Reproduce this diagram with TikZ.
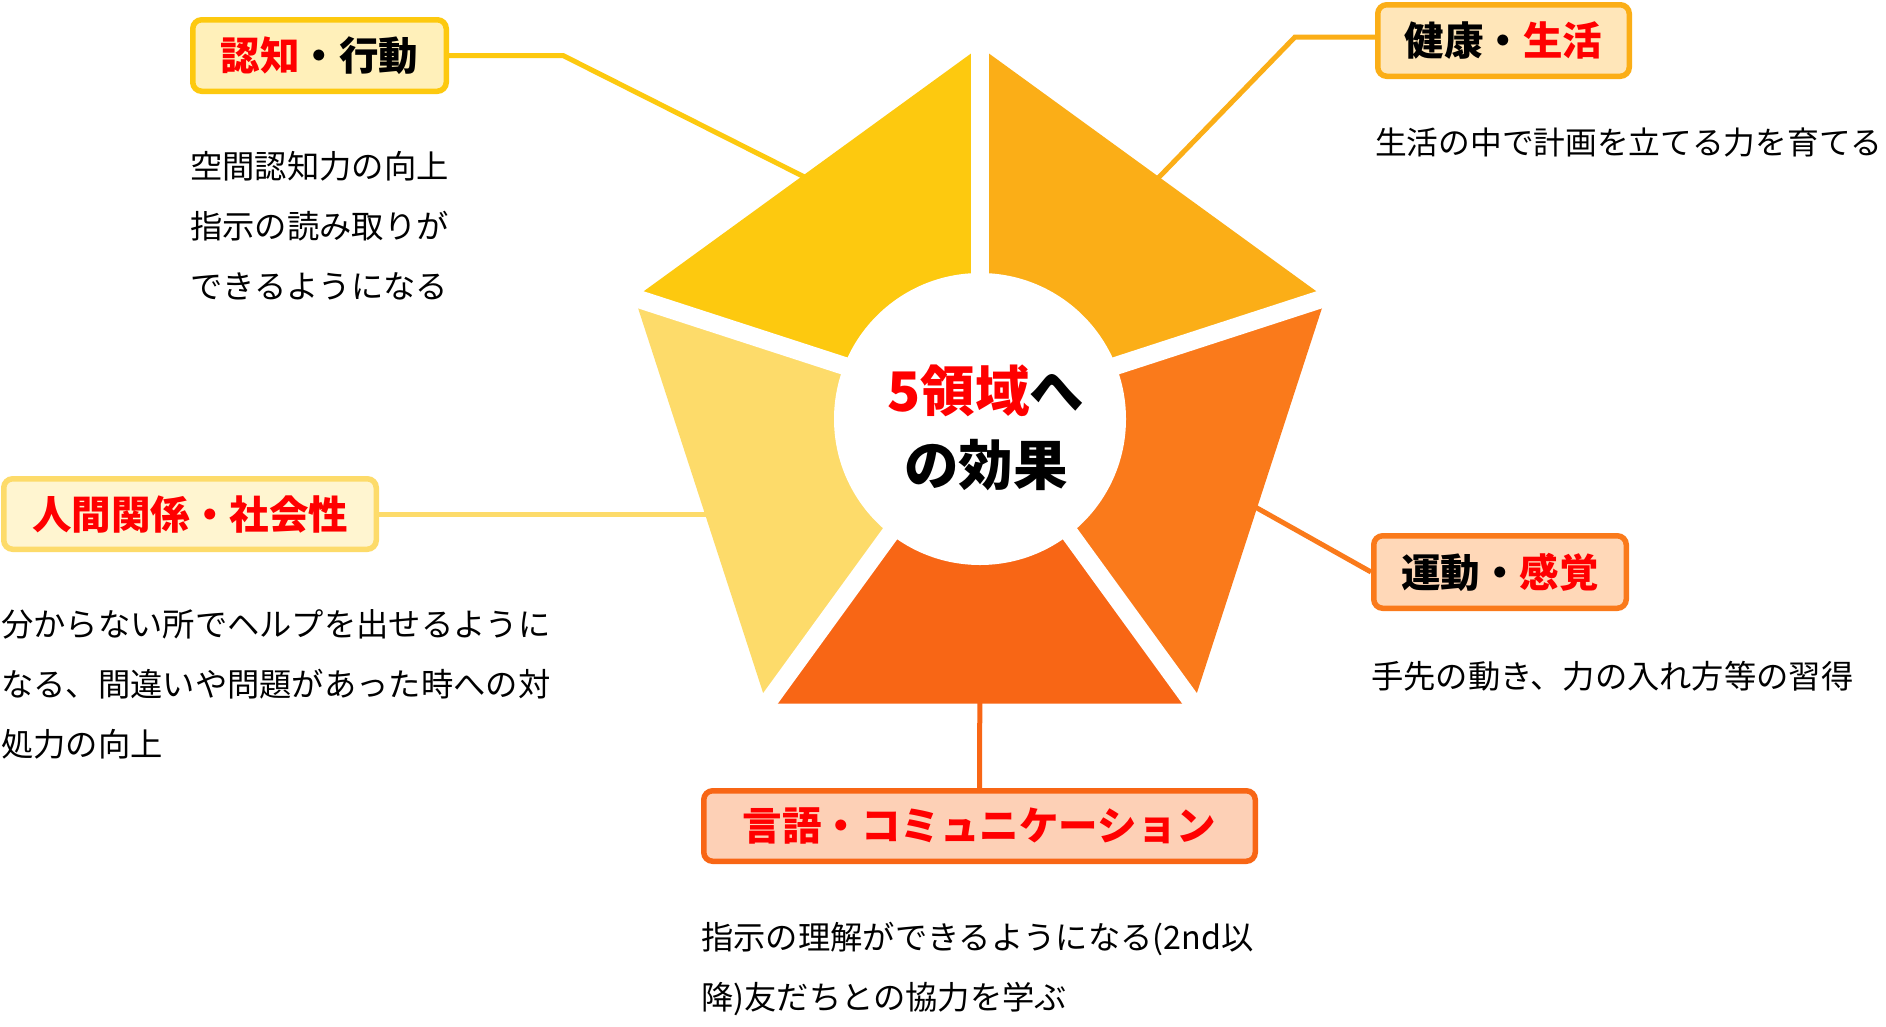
\documentclass[tikz,border=0pt]{standalone}
\usepackage{fontspec}
\setmainfont{Noto Sans CJK JP}
\usetikzlibrary{calc}
\definecolor{cA}{HTML}{FDC90F}
\definecolor{cB}{HTML}{FBAE17}
\definecolor{cC}{HTML}{FA7A1B}
\definecolor{cD}{HTML}{F86615}
\definecolor{cE}{HTML}{FDDB6A}
\definecolor{fA}{HTML}{FFF0BA}
\definecolor{fB}{HTML}{FFE6B9}
\definecolor{fC}{HTML}{FFD8B8}
\definecolor{fD}{HTML}{FDD0B6}
\definecolor{fE}{HTML}{FFF5D0}
\definecolor{accent}{HTML}{FF0000}
\begin{document}
\begin{tikzpicture}[x=1pt,y=-1pt,
  lbl/.style={draw, line width=5.5pt, rounded corners=9pt, inner sep=0pt,
    font=\fontsize{39.5}{47}\selectfont\bfseries, anchor=center},
  body/.style={anchor=north west, inner sep=0pt, align=left,
    font=\fontsize{32.3}{60}\selectfont},
  conn/.style={line width=5pt},
  gapline/.style={white, line width=18pt},
  piece/.style={draw=none}]
\useasboundingbox[fill=white] (0,0) rectangle (1886,1026);

% pentagon geometry
\coordinate (C) at (980,410);
\coordinate (V0) at (980,47);
\coordinate (V1) at (1325.3,297.8);
\coordinate (V2) at (1193.4,703.7);
\coordinate (V3) at (766.6,703.7);
\coordinate (V4) at (634.7,297.8);
\coordinate (O) at (980,419);

% label boxes
\node[lbl, draw=cA, fill=fA, minimum width=253.5pt, minimum height=71.5pt] (b1) at (319.5,55.5) {\textcolor{accent}{認知}・行動};
\node[lbl, draw=cB, fill=fB, minimum width=251.5pt, minimum height=71.5pt] (b2) at (1503.5,40.5) {健康・\textcolor{accent}{生活}};
\node[lbl, draw=cE, fill=fE, minimum width=372.5pt, minimum height=70.5pt] (b3) at (190,514) {\textcolor{accent}{人間関係・社会性}};
\node[lbl, draw=cC, fill=fC, minimum width=252.5pt, minimum height=72.5pt] (b4) at (1500,572) {運動・\textcolor{accent}{感覚}};
\node[lbl, draw=cD, fill=fD, minimum width=551.5pt, minimum height=70.5pt] (b5) at (979.5,826) {\textcolor{accent}{言語・コミュニケーション}};

% connectors (behind pieces)
\coordinate (k1) at (563,55.5);
\coordinate (e1) at (880,215);
\coordinate (k2) at (1295,37);
\coordinate (e2) at (1100,238);
\coordinate (e3) at (760,514);
\coordinate (e4) at (1200,476);
\coordinate (e5) at (980,650);
\draw[conn, cA] (b1.east) -- (k1) -- (e1);
\draw[conn, cB] (k2 -| b2.west) -- (k2) -- (e2);
\draw[conn, cE] (b3.east) -- (e3);
\draw[conn, cC] (b4.west) -- (e4);
\draw[conn, cD] (b5.north) -- (e5);

% pieces
\fill[cA] (C) -- (V4) -- (V0) -- cycle;
\fill[cB] (C) -- (V0) -- (V1) -- cycle;
\fill[cC] (C) -- (V1) -- (V2) -- cycle;
\fill[cD] (C) -- (V2) -- (V3) -- cycle;
\fill[cE] (C) -- (V3) -- (V4) -- cycle;
\foreach \v in {V0,V1,V2,V3,V4}
  \draw[gapline] (C) -- ($(C)!1.08!(\v)$);
\fill[white] (O) circle (146);

% centre text
\node[align=center, inner sep=0pt, font=\fontsize{54.5}{74}\selectfont\bfseries] (ctr) at (986,428) {\textcolor{accent}{5領域}へ\\の効果};

% body texts
\node[body] (t1) at (190,151.5) {空間認知力の向上\\指示の読み取りが\\できるようになる};
\node[body, font=\fontsize{31.7}{60}\selectfont] (t2) at (1375,127.5) {生活の中で計画を立てる力を育てる};
\node[body] (t3) at (1,609.5) {分からない所でヘルプを出せるように\\なる、間違いや問題があった時への対\\処力の向上};
\node[body] (t4) at (1371,660.5) {手先の動き、力の入れ方等の習得};
\node[body] (t5) at (701,921.5) {指示の理解ができるようになる(2nd以\\降)友だちとの協力を学ぶ};
\end{tikzpicture}
\end{document}
